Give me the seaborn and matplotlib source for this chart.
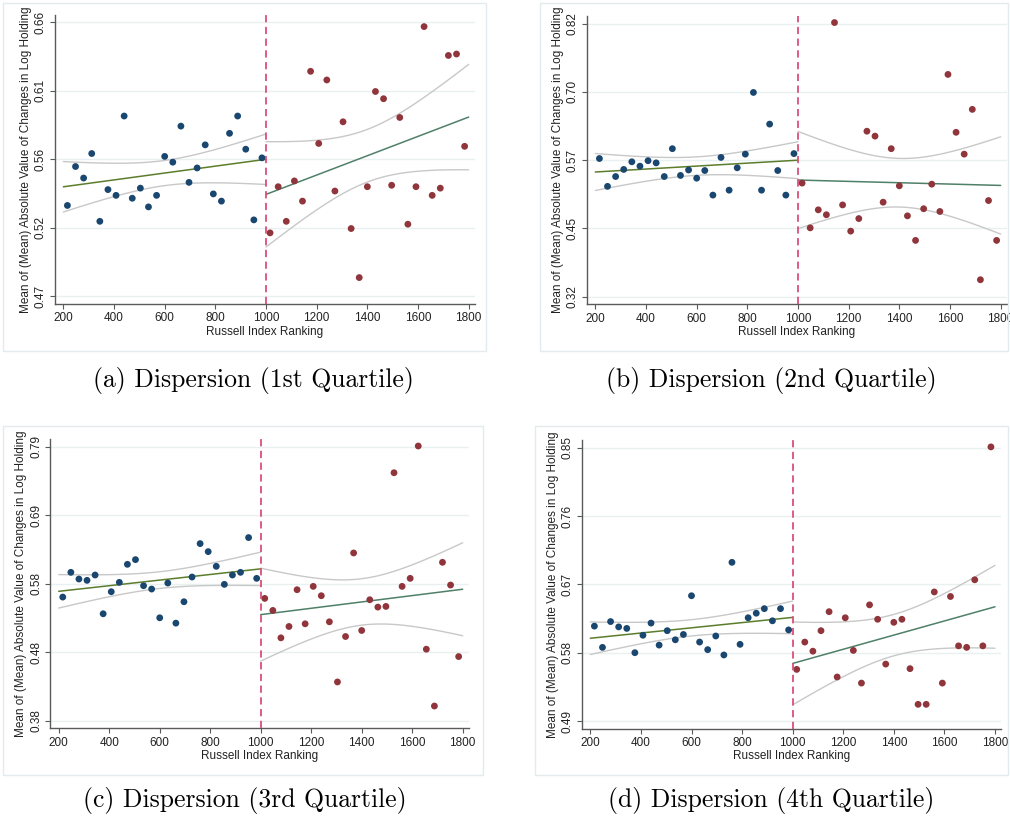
import numpy as np
import matplotlib
matplotlib.use("Agg")
import matplotlib.pyplot as plt
from matplotlib.patches import Rectangle
import seaborn as sns

# Russell index rank bins (bin centres) on each side of the 1000 cutoff
rank_below = [216, 248, 280, 312, 344, 376, 408, 440, 472, 504, 536, 568, 600,
              632, 664, 696, 728, 760, 792, 824, 856, 888, 920, 952, 984]
rank_above = [1016, 1048, 1080, 1112, 1144, 1176, 1208, 1240, 1272, 1304, 1336,
              1368, 1400, 1432, 1464, 1496, 1528, 1560, 1592, 1624, 1656, 1688,
              1720, 1752, 1784]

# Mean absolute change in log holding, by quartile of dispersion
q1_below = [0.533, 0.560, 0.552, 0.569, 0.522, 0.544, 0.540, 0.595, 0.538, 0.545,
            0.532, 0.540, 0.567, 0.563, 0.588, 0.549, 0.559, 0.575, 0.541, 0.536,
            0.583, 0.595, 0.572, 0.523, 0.566]
q1_above = [0.514, 0.546, 0.522, 0.550, 0.536, 0.626, 0.576, 0.620, 0.543, 0.591,
            0.517, 0.483, 0.546, 0.612, 0.607, 0.547, 0.594, 0.520, 0.546, 0.657,
            0.540, 0.545, 0.637, 0.638, 0.574]

q2_below = [0.573, 0.522, 0.540, 0.553, 0.567, 0.559, 0.569, 0.565, 0.540, 0.591,
            0.542, 0.552, 0.537, 0.551, 0.506, 0.575, 0.515, 0.556, 0.581, 0.694,
            0.515, 0.636, 0.551, 0.506, 0.582]
q2_above = [0.528, 0.446, 0.479, 0.470, 0.822, 0.488, 0.440, 0.463, 0.623, 0.614,
            0.493, 0.591, 0.523, 0.468, 0.423, 0.481, 0.526, 0.476, 0.727, 0.621,
            0.581, 0.663, 0.351, 0.496, 0.423]

q3_below = [0.565, 0.602, 0.592, 0.590, 0.598, 0.540, 0.573, 0.587, 0.614, 0.621,
            0.582, 0.577, 0.534, 0.586, 0.526, 0.558, 0.595, 0.645, 0.633, 0.611,
            0.584, 0.598, 0.602, 0.654, 0.593]
q3_above = [0.563, 0.545, 0.504, 0.521, 0.576, 0.525, 0.581, 0.567, 0.528, 0.438,
            0.506, 0.631, 0.515, 0.561, 0.550, 0.551, 0.751, 0.581, 0.593, 0.791,
            0.487, 0.402, 0.617, 0.583, 0.476]

q4_below = [0.615, 0.587, 0.621, 0.614, 0.612, 0.580, 0.603, 0.619, 0.590, 0.609,
            0.597, 0.604, 0.655, 0.594, 0.584, 0.602, 0.577, 0.699, 0.591, 0.626,
            0.632, 0.638, 0.622, 0.638, 0.610]
q4_above = [0.558, 0.594, 0.582, 0.609, 0.634, 0.548, 0.626, 0.583, 0.540, 0.643,
            0.624, 0.565, 0.620, 0.624, 0.559, 0.512, 0.512, 0.660, 0.540, 0.654,
            0.589, 0.587, 0.676, 0.589, 0.851]

# y-axis ticks (evenly spaced) and their printed labels
q1_yticks = [0.47, 0.5175, 0.565, 0.6125, 0.66]
q1_ylabels = ["0.47", "0.52", "0.56", "0.61", "0.66"]
q2_yticks = [0.32, 0.445, 0.57, 0.695, 0.82]
q2_ylabels = ["0.32", "0.45", "0.57", "0.70", "0.82"]
q3_yticks = [0.38, 0.4825, 0.585, 0.6875, 0.79]
q3_ylabels = ["0.38", "0.48", "0.58", "0.69", "0.79"]
q4_yticks = [0.49, 0.58, 0.67, 0.76, 0.85]
q4_ylabels = ["0.49", "0.58", "0.67", "0.76", "0.85"]

x_ticks = [200, 400, 600, 800, 1000, 1200, 1400, 1600, 1800]
cutoff = 1000

captions = ["(a) Dispersion (1st Quartile)", "(b) Dispersion (2nd Quartile)",
            "(c) Dispersion (3rd Quartile)", "(d) Dispersion (4th Quartile)"]
x_title = "Russell Index Ranking"
y_title = "Mean of (Mean) Absolute Value of Changes in Log Holding"

NAVY = "#1a476f"
MAROON = "#90353b"
FIT_LEFT = "#5b7d2c"
FIT_RIGHT = "#4f8068"
CI_GREY = "#c8c8c8"
CUT_PINK = "#dc4f7a"
GRID = "#e8f0f2"
AXIS = "#5a5a5a"

sns.set_theme(style="white")
plt.rcParams["font.family"] = ["Liberation Sans", "DejaVu Sans"]

W, H = 1010, 824
fig = plt.figure(figsize=(W / 100, H / 100), dpi=100)
fig.patch.set_facecolor("white")


def px_axes(left, top, right, bottom):
    return fig.add_axes([left / W, 1 - bottom / H, (right - left) / W, (bottom - top) / H])


def fit_with_band(x, y, lo, hi):
    """Linear fit with a 95% confidence band for the mean."""
    x = np.asarray(x, float)
    y = np.asarray(y, float)
    n = len(x)
    b, a = np.polyfit(x, y, 1)
    resid = y - (a + b * x)
    s = np.sqrt(np.sum(resid ** 2) / (n - 2))
    sxx = np.sum((x - x.mean()) ** 2)
    grid = np.linspace(lo, hi, 120)
    yhat = a + b * grid
    se = s * np.sqrt(1.0 / n + (grid - x.mean()) ** 2 / sxx)
    t = 2.069
    return grid, yhat, yhat - t * se, yhat + t * se


# (below, above, ticks, labels, axes box px, frame box px, caption centre px)
panels = [
    (q1_below, q1_above, q1_yticks, q1_ylabels, (55, 14.6, 475, 304), (3, 3, 486, 351), (253, 381)),
    (q2_below, q2_above, q2_yticks, q2_ylabels, (587, 16, 1007, 304.3), (540, 3, 1008, 351), (771, 381)),
    (q3_below, q3_above, q3_yticks, q3_ylabels, (50.4, 439, 469, 728.4), (3, 426, 483, 775), (245, 801)),
    (q4_below, q4_above, q4_yticks, q4_ylabels, (582, 440, 1001.3, 728.7), (535, 426, 1008, 775), (771, 801)),
]

for (yb, ya, yt, yl, rect, frame, cap_xy), cap in zip(panels, captions):
    # light graph-region border
    fx0, fy0, fx1, fy1 = frame
    fig.patches.append(Rectangle((fx0 / W, 1 - fy1 / H), (fx1 - fx0) / W, (fy1 - fy0) / H,
                                 transform=fig.transFigure, fill=False,
                                 edgecolor="#e3ebef", linewidth=1.0, zorder=0))

    ax = px_axes(*rect)
    ax.set_facecolor("white")

    for gy in yt:
        ax.axhline(gy, color=GRID, lw=1.0, zorder=0)

    for xs, ys, lo, hi, col in ((rank_below, yb, 200, cutoff, FIT_LEFT),
                                (rank_above, ya, cutoff, 1800, FIT_RIGHT)):
        g, yh, lb, ub = fit_with_band(xs, ys, lo, hi)
        sns.lineplot(x=g, y=ub, color=CI_GREY, lw=1.0, ax=ax, zorder=2)
        sns.lineplot(x=g, y=lb, color=CI_GREY, lw=1.0, ax=ax, zorder=2)
        sns.lineplot(x=g, y=yh, color=col, lw=1.1, ax=ax, zorder=3)

    sns.scatterplot(x=rank_below, y=yb, color=NAVY, s=24, edgecolor="none", ax=ax, zorder=4)
    sns.scatterplot(x=rank_above, y=ya, color=MAROON, s=24, edgecolor="none", ax=ax, zorder=4)

    ax.axvline(cutoff, color=CUT_PINK, lw=1.3, ls=(0, (4, 2.5)), zorder=5)

    span = yt[-1] - yt[0]
    ax.set_ylim(yt[0] - 0.028 * span, yt[-1] + 0.028 * span)
    ax.set_xlim(167, 1825)
    ax.set_yticks(yt)
    ax.set_yticklabels(yl, rotation=90, va="center", fontsize=8.5)
    ax.set_xticks(x_ticks)
    ax.set_xticklabels([str(v) for v in x_ticks], fontsize=8.5)
    ax.tick_params(axis="both", direction="out", length=3.5, width=0.8, color=AXIS,
                   labelcolor="#222222", pad=2.5, left=True, bottom=True)
    ax.set_xlabel(x_title, fontsize=8.5, color="#222222", labelpad=1)
    ax.set_ylabel(y_title, fontsize=8.5, color="#222222", labelpad=2)
    for side in ("top", "right"):
        ax.spines[side].set_visible(False)
    for side in ("left", "bottom"):
        ax.spines[side].set_color(AXIS)
        ax.spines[side].set_linewidth(1.0)

    cx, cy = cap_xy
    fig.text(cx / W, 1 - cy / H, cap, ha="center", va="center",
             fontsize=18.5, family=["cmr10", "DejaVu Serif"], color="black")

fig.savefig("out.png", dpi=100, facecolor="white")
